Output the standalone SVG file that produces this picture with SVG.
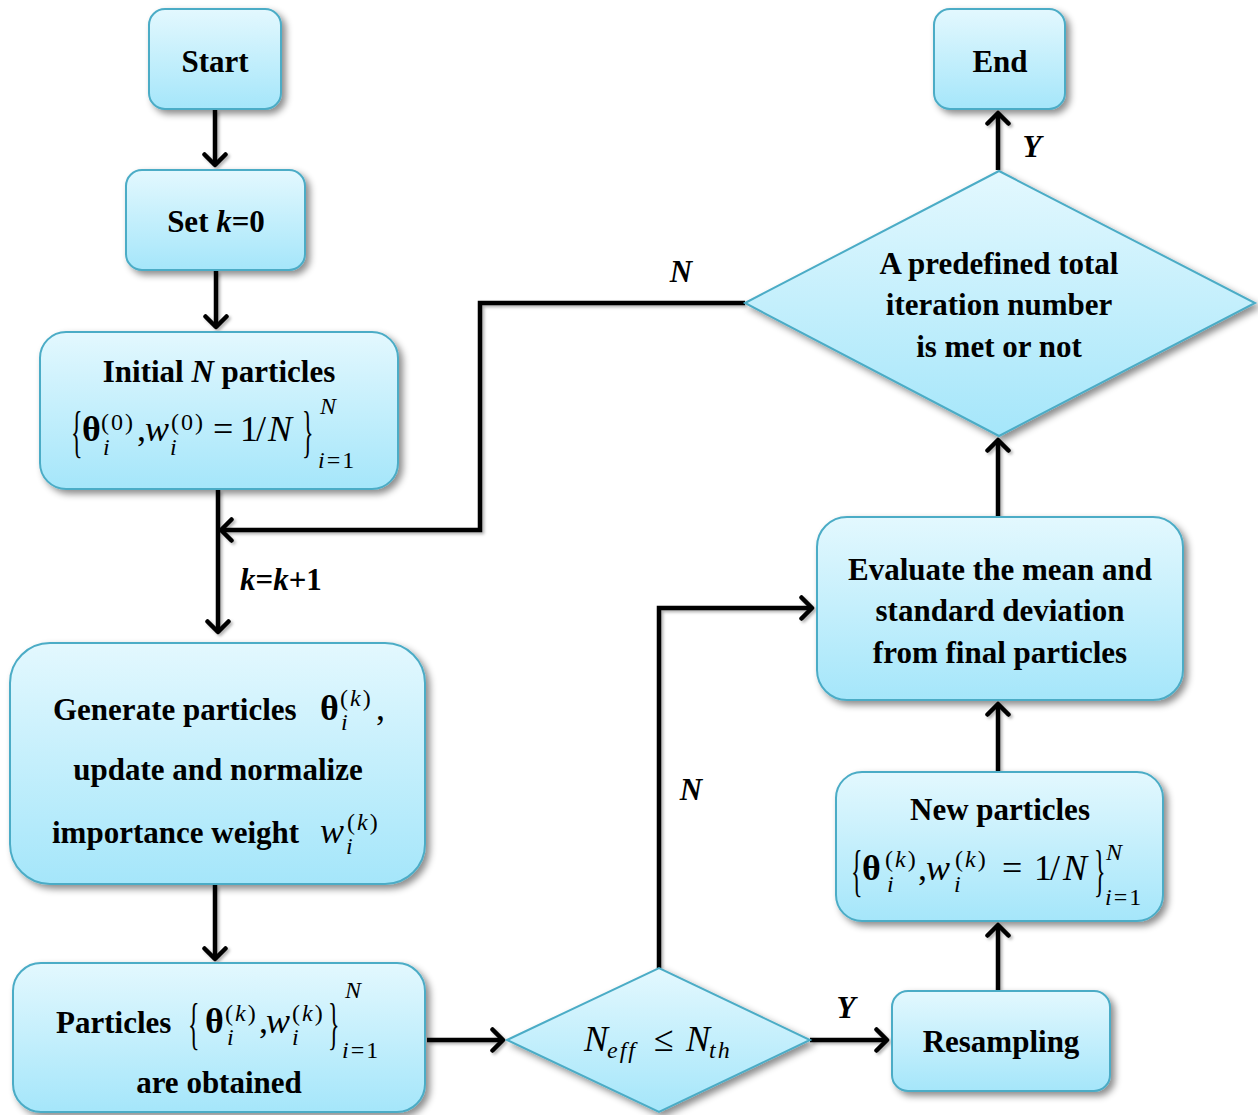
<svg xmlns="http://www.w3.org/2000/svg" width="1258" height="1115" viewBox="0 0 1258 1115">
<defs>
<linearGradient id="g" x1="0" y1="0" x2="0" y2="1">
<stop offset="0" stop-color="#e3f8fe"/>
<stop offset="1" stop-color="#a5e6fa"/>
</linearGradient>
<filter id="sh" x="-10%" y="-10%" width="130%" height="130%">
<feDropShadow dx="4" dy="4" stdDeviation="3.5" flood-color="#000" flood-opacity="0.45"/>
</filter>
<filter id="lsh" x="-20%" y="-20%" width="140%" height="140%">
<feDropShadow dx="2" dy="2" stdDeviation="1.5" flood-color="#000" flood-opacity="0.3"/>
</filter>
<marker id="ar" viewBox="0 0 16 26" refX="13" refY="13" markerWidth="16" markerHeight="26" markerUnits="userSpaceOnUse" orient="auto">
<path d="M2.5,2.5 L13,13 L2.5,23.5" fill="none" stroke="#000" stroke-width="4.5" stroke-linecap="round" stroke-linejoin="round"/>
</marker>
</defs>
<style>
.box{fill:url(#g);stroke:#4bacc6;stroke-width:2;filter:url(#sh)}
.lbl{font-family:"Liberation Serif",serif;font-weight:bold;font-size:31px;fill:#000}
.c{text-anchor:middle}
.m{font-family:"Liberation Serif",serif;font-size:36px;fill:#000}
.it{font-style:italic}
.bd{font-weight:bold}
.s{font-size:24px;letter-spacing:2px}
.br{font-family:"Liberation Serif",serif;font-size:40px;fill:#000}
.conn path{fill:none;stroke:#000;stroke-width:4.5;marker-end:url(#ar)}
</style>

<g id="connectors" filter="url(#lsh)" class="conn">
<path d="M215,110 V165"/>
<path d="M216,271 V327"/>
<path d="M218,490 V632"/>
<path d="M745,303 H480 V530 H221"/>
<path d="M215,885 V959"/>
<path d="M427,1040 H503"/>
<path d="M810,1040 H887"/>
<path d="M659,968 V608 H812"/>
<path d="M998,990 V925"/>
<path d="M998,771 V704"/>
<path d="M998,516 V440"/>
<path d="M998,170 V113"/>
</g>

<g id="edge-labels">
<text class="lbl it" x="681" y="282" text-anchor="middle">N</text>
<text class="lbl" x="240" y="590"><tspan font-style="italic">k</tspan>=<tspan font-style="italic">k</tspan>+1</text>
<text class="lbl it" x="846" y="1018" text-anchor="middle">Y</text>
<text class="lbl it" x="691" y="800" text-anchor="middle">N</text>
<text class="lbl it" x="1032" y="157" text-anchor="middle">Y</text>
</g>

<g id="start">
<rect class="box" x="149" y="9" width="132" height="100" rx="16"/>
<text class="lbl c" x="215" y="72">Start</text>
</g>

<g id="setk">
<rect class="box" x="126" y="170" width="179" height="100" rx="16"/>
<text class="lbl c" x="216" y="232">Set <tspan font-style="italic">k</tspan>=0</text>
</g>

<g id="initial">
<rect class="box" x="40" y="332" width="358" height="157" rx="26"/>
<text class="lbl c" x="219" y="382">Initial <tspan font-style="italic">N</tspan> particles</text>
<text class="br" transform="translate(71,451) scale(0.6,1.4)">{</text>
<text class="m bd" x="82" y="441">θ</text>
<text class="m s" x="101" y="430">(0)</text>
<text class="m s it" x="103" y="455">i</text>
<text class="m" x="137" y="441">,</text>
<text class="m it" x="145" y="441">w</text>
<text class="m s" x="171" y="430">(0)</text>
<text class="m s it" x="170" y="455">i</text>
<text class="m" x="213" y="441">=</text>
<text class="m" x="240" y="441">1</text>
<text class="m" x="256" y="441">/</text>
<text class="m it" x="268" y="441">N</text>
<text class="br" transform="translate(302,451) scale(0.6,1.4)">}</text>
<text class="m s it" x="320" y="414">N</text>
<text class="m s" x="318" y="468"><tspan font-style="italic">i</tspan>=1</text>
</g>

<g id="generate">
<rect class="box" x="10" y="643" width="415" height="241" rx="40"/>
<text class="lbl" x="53" y="720">Generate particles</text>
<text class="m bd" x="320" y="720">θ</text>
<text class="m s" x="340" y="706">(<tspan font-style="italic">k</tspan>)</text>
<text class="m s it" x="341" y="730">i</text>
<text class="m" x="376" y="720">,</text>
<text class="lbl c" x="218" y="780">update and normalize</text>
<text class="lbl" x="52" y="843">importance weight</text>
<text class="m it" x="320" y="843">w</text>
<text class="m s" x="347" y="830">(<tspan font-style="italic">k</tspan>)</text>
<text class="m s it" x="346" y="854">i</text>
</g>

<g id="particles">
<rect class="box" x="13" y="963" width="412" height="149" rx="28"/>
<text class="lbl" x="56" y="1033">Particles</text>
<text class="br" transform="translate(188,1043) scale(0.6,1.4)">{</text>
<text class="m bd" x="205" y="1033">θ</text>
<text class="m s" x="225" y="1021">(<tspan font-style="italic">k</tspan>)</text>
<text class="m s it" x="227" y="1045">i</text>
<text class="m" x="259" y="1033">,</text>
<text class="m it" x="266" y="1033">w</text>
<text class="m s" x="292" y="1021">(<tspan font-style="italic">k</tspan>)</text>
<text class="m s it" x="292" y="1045">i</text>
<text class="br" transform="translate(328,1043) scale(0.6,1.4)">}</text>
<text class="m s it" x="345" y="998">N</text>
<text class="m s" x="342" y="1058"><tspan font-style="italic">i</tspan>=1</text>
<text class="lbl c" x="219" y="1093">are obtained</text>
</g>

<g id="neff">
<polygon class="box" points="507,1040 659,968 810,1040 659,1112"/>
<text class="m it" x="584" y="1051" font-size="34">N</text>
<text class="m s it" x="607" y="1058" letter-spacing="4">eff</text>
<text class="m" x="654" y="1051" font-size="34">≤</text>
<text class="m it" x="686" y="1051" font-size="34">N</text>
<text class="m s it" x="709" y="1058" letter-spacing="3">th</text>
</g>

<g id="resampling">
<rect class="box" x="892" y="991" width="218" height="100" rx="16"/>
<text class="lbl c" x="1001" y="1052">Resampling</text>
</g>

<g id="newparticles">
<rect class="box" x="836" y="772" width="327" height="149" rx="26"/>
<text class="lbl c" x="1000" y="820">New particles</text>
<text class="br" transform="translate(851,890) scale(0.6,1.4)">{</text>
<text class="m bd" x="862" y="880">θ</text>
<text class="m s" x="885" y="867">(<tspan font-style="italic">k</tspan>)</text>
<text class="m s it" x="887" y="892">i</text>
<text class="m" x="918" y="880">,</text>
<text class="m it" x="926" y="880">w</text>
<text class="m s" x="955" y="867">(<tspan font-style="italic">k</tspan>)</text>
<text class="m s it" x="954" y="892">i</text>
<text class="m" x="1002" y="880">=</text>
<text class="m" x="1034" y="880">1</text>
<text class="m" x="1050" y="880">/</text>
<text class="m it" x="1063" y="880">N</text>
<text class="br" transform="translate(1094,890) scale(0.6,1.4)">}</text>
<text class="m s it" x="1106" y="860">N</text>
<text class="m s" x="1105" y="905"><tspan font-style="italic">i</tspan>=1</text>
</g>

<g id="evaluate">
<rect class="box" x="817" y="517" width="366" height="183" rx="30"/>
<text class="lbl c" x="1000" y="580">Evaluate the mean and</text>
<text class="lbl c" x="1000" y="621">standard deviation</text>
<text class="lbl c" x="1000" y="663">from final particles</text>
</g>

<g id="decision">
<polygon class="box" points="745,303 999,171 1255,303 999,436"/>
<text class="lbl c" x="999" y="274">A predefined total</text>
<text class="lbl c" x="999" y="315">iteration number</text>
<text class="lbl c" x="999" y="357">is met or not</text>
</g>

<g id="end">
<rect class="box" x="934" y="9" width="131" height="100" rx="16"/>
<text class="lbl c" x="1000" y="72">End</text>
</g>
</svg>
